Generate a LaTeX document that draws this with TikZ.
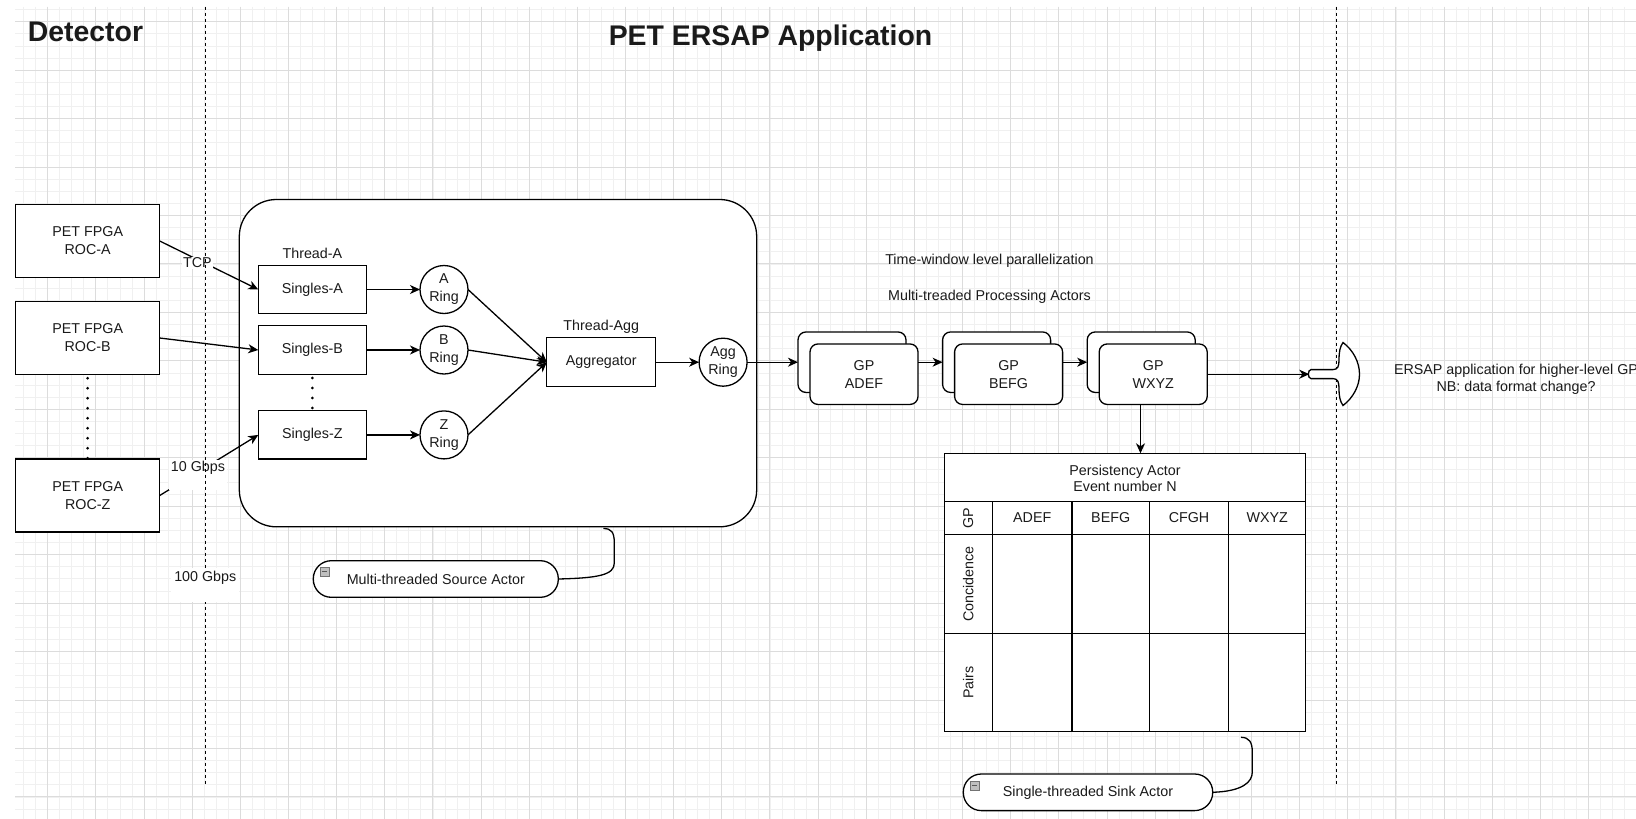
\documentclass[tikz,border=0pt]{standalone}
\usepackage{fontspec}
\setmainfont{Liberation Sans}
\usetikzlibrary{arrows.meta,calc}
\definecolor{gridmajor}{HTML}{DCDCDC}
\definecolor{gridminor}{HTML}{F0F0F0}
\definecolor{ink}{HTML}{1A1A1A}
\begin{document}
\begin{tikzpicture}[x=1pt,y=-1pt,
  every node/.style={font=\fontsize{14.3}{18}\selectfont, text=ink, outer sep=0pt},
  box/.style={draw, line width=1.3pt, fill=white, align=center, inner sep=0pt},
  roc/.style={box, minimum width=144pt, minimum height=73pt},
  singles/.style={box, minimum width=108.2pt, minimum height=48.4pt},
  ring/.style={box, circle, minimum size=48pt},
  gpbox/.style={box, rounded corners=8pt, minimum width=108pt, minimum height=60.5pt},
  conn/.style={line width=1.3pt, -{Stealth[length=10pt,width=9pt,inset=3pt]}},
  lbl/.style={fill=white, inner sep=1pt},
  sepline/.style={line width=1.3pt, dash pattern=on 3pt off 3pt},
  dotline/.style={line width=3pt, line cap=round, dash pattern=on 0pt off 10pt},
  callout/.style={box, rounded corners=18pt, minimum height=36.6pt},
  icon/.style={draw=black!55, fill=black!25, minimum size=9pt, inner sep=0pt, line width=0.6pt},
  plain/.style={line width=1.3pt},
  title/.style={font=\fontsize{28.4}{30}\selectfont\bfseries, anchor=base}
]
\useasboundingbox (0,0) rectangle (1636,819);
\fill[white] (0,0) rectangle (1636,819);

% background grid
\foreach \i in {-2,...,132}
  \draw[gridminor, line width=0.8pt] ({47.7+12.0375*\i},6.7) -- ({47.7+12.0375*\i},819);
\foreach \j in {-1,...,65}
  \draw[gridminor, line width=0.8pt] (15.3,{21.7+12.1125*\j}) -- (1636,{21.7+12.1125*\j});
\foreach \i in {0,...,32}
  \draw[gridmajor, line width=1pt] ({47.7+48.15*\i},6.7) -- ({47.7+48.15*\i},819);
\foreach \j in {0,...,16}
  \draw[gridmajor, line width=1pt] (15.3,{21.7+48.45*\j}) -- (1636,{21.7+48.45*\j});

% titles
\node[title] (ttldet) at (85.5,41.7) {Detector};
\node[title] (ttlapp) at (770.5,45) {PET ERSAP Application};

% detector read-out boards
\node[roc] (rocA) at (87.7,241) {PET FPGA\\ROC-A};
\node[roc] (rocB) at (87.7,338) {PET FPGA\\ROC-B};
\node[roc] (rocZ) at (87.7,495.5) {PET FPGA\\ROC-Z};
\draw[dotline, shorten <=3.7pt] (rocB.south) -- (rocZ.north);

% source actor container
\node[box, rounded corners=37pt, minimum width=517.4pt, minimum height=327.3pt] (cont) at (498,363.15) {};

\node[singles] (sA) at (312.4,289.5) {Singles-A};
\node[singles] (sB) at (312.4,350) {Singles-B};
\node[singles] (sZ) at (312.4,434.9) {Singles-Z};
\node[anchor=base] (thA) at ($(sA.north)+(0,-7)$) {Thread-A};
\draw[dotline, shorten <=3.7pt] (sB.south) -- (sZ.north);

\node[ring] (rA) at (444,289.5) {A\\Ring};
\node[ring] (rB) at (444,350) {B\\Ring};
\node[ring] (rZ) at (444,434.9) {Z\\Ring};

\node[box, minimum width=108.8pt, minimum height=49pt] (agg) at (601.2,362.2) {Aggregator};
\node[anchor=base] (thAgg) at ($(agg.north)+(0,-7.7)$) {Thread-Agg};
\node[ring] (rAgg) at (723.1,362.2) {Agg\\Ring};

\draw[conn] (sA.east) -- (rA.west);
\draw[conn] (sB.east) -- (rB.west);
\draw[conn] (sZ.east) -- (rZ.west);
\draw[conn] (rA.east) -- (agg.west);
\draw[conn] (rB.east) -- (agg.west);
\draw[conn] (rZ.east) -- (agg.west);
\draw[conn] (agg.east) -- (rAgg.west);

% links from the boards
\draw[conn] (rocA.east) -- node[lbl, pos=0.383, yshift=-3pt] (tcp) {TCP} (sA.west);
\draw[conn] (rocB.east) -- (sB.west);
\draw[conn] (rocZ.east) -- node[lbl, pos=0.388, anchor=base, text depth=16pt, inner sep=2pt] (gb10) {10 Gbps} (sZ.west);

% separators
\coordinate (sepLtop) at (205.3,6.7);
\coordinate (sepLbot) at (205.3,785);
\coordinate (sepRtop) at (1336.7,6.7);
\coordinate (sepRbot) at (1336.7,785);
\draw[sepline] (sepLtop) -- node[lbl, pos=0.7388, anchor=base, text depth=17pt, inner sep=3pt] (gb100) {100 Gbps} (sepLbot);
\draw[sepline] (sepRtop) -- (sepRbot);

% processing actors
\node (twl) [anchor=base] at (989.5,264) {Time-window level parallelization};
\node (mtp) [anchor=base] at (989.5,300) {Multi-treaded Processing Actors};

\node[gpbox] (gpAb) at (852,362.2) {};
\node[gpbox] (gpAf) at (864,374.2) {GP\\ADEF};
\node[gpbox] (gpBb) at (996.6,362.2) {};
\node[gpbox] (gpBf) at (1008.6,374.2) {GP\\BEFG};
\node[gpbox] (gpWb) at (1141.2,362.2) {};
\node[gpbox] (gpWf) at (1153.2,374.2) {GP\\WXYZ};

\draw[conn] (rAgg.east) -- (gpAb.west);
\draw[conn] (gpAf.east |- gpAb.east) -- (gpBb.west);
\draw[conn] (gpBf.east |- gpBb.east) -- (gpWb.west);

% hand-off to the next application
\coordinate (flagin) at (1309.3,374.2);
\draw[conn] (gpWf.east) -- (flagin);
\filldraw[fill=white, line width=1.3pt]
  (1311,369.6) -- (1333,369.6)
  .. controls (1338,369.6) and (1339,366) .. (1339,360)
  .. controls (1339,352) and (1340,346.5) .. (1343,342.5)
  .. controls (1353,350) and (1359.5,362) .. (1359.5,374.2)
  .. controls (1359.5,386) and (1353,398) .. (1343,405.5)
  .. controls (1340,401.5) and (1339,396) .. (1339,388.4)
  .. controls (1339,382.4) and (1338,378.6) .. (1333,378.6)
  -- (1311,378.6)
  .. controls (1307.5,378.6) and (1307.5,369.6) .. (1311,369.6) -- cycle;
\node[align=center, font=\fontsize{14.3}{17.4}\selectfont] (ersap) at (1516,379.5)
  {ERSAP application for higher-level GP\\NB: data format change?};

% persistency actor table
\node[draw, line width=1.3pt, fill=white, minimum width=361.4pt, minimum height=278.4pt, inner sep=0pt] (tbl) at (1125,592.5) {};
\draw[conn] ([xshift=-12.7pt]gpWf.south) -- ([xshift=-12.7pt]gpWf.south |- tbl.north);
\draw[plain] (944.3,501.7) -- (1305.7,501.7);
\draw[plain] (944.3,534.3) -- (1305.7,534.3);
\draw[plain] (944.3,633.3) -- (1305.7,633.3);
\foreach \cx in {992.3,1072,1149.3,1228.7}
  \draw[plain] (\cx,501.7) -- (\cx,731.7);
\node[align=center, font=\fontsize{14.3}{16.7}\selectfont] (hdr) at (1125,478.3) {Persistency Actor\\Event number N};
\node (cA) at (1032.2,518) {ADEF};
\node (cB) at (1110.7,518) {BEFG};
\node (cC) at (1189,518) {CFGH};
\node (cW) at (1267.2,518) {WXYZ};
\node[rotate=90] (rGP) at (968.3,518) {GP};
\node[rotate=90] (rCo) at (968.3,583.8) {Concidence};
\node[rotate=90] (rPa) at (968.3,682.5) {Pairs};

% callouts
\node[callout, minimum width=245pt] (src) at (435.8,579) {Multi-threaded Source Actor};
\node[icon] (srcicon) at (324.3,571.7) {};
\draw[black!65, line width=1.2pt] ([xshift=2pt]srcicon.west) -- ([xshift=-2pt]srcicon.east);
\coordinate (srcend) at (603.3,528.5);
\draw[plain] (src.east) .. controls +(40,-1) and +(0,12) .. (614.3,563) -- (614.3,543)
  .. controls +(0,-11) and +(8,0) .. (srcend);

\node[callout, minimum width=249.4pt] (snk) at (1088,792.3) {Single-threaded Sink Actor};
\node[icon] (snkicon) at (974.6,785.3) {};
\draw[black!65, line width=1.2pt] ([xshift=2pt]snkicon.west) -- ([xshift=-2pt]snkicon.east);
\coordinate (snkend) at (1241,737.3);
\draw[plain] (snk.east) .. controls +(30,-1) and +(0,10) .. (1252.3,772) -- (1252.3,752)
  .. controls +(0,-10) and +(8,0) .. (snkend);
\end{tikzpicture}
\end{document}
